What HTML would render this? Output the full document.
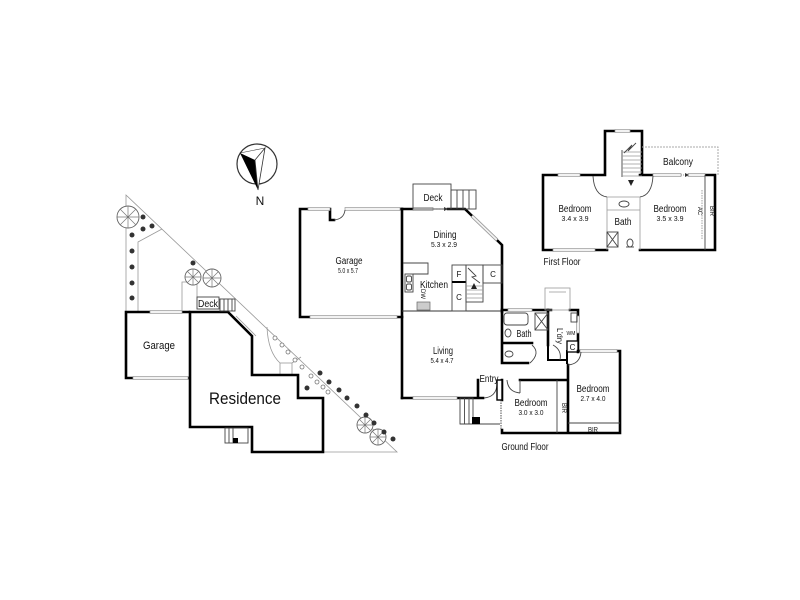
<!DOCTYPE html>
<html><head><meta charset="utf-8"><style>
html,body{margin:0;padding:0;background:#fff;}
svg{display:block;}
text{font-family:"Liberation Sans",sans-serif;fill:#111;}
.w{stroke:#000;stroke-width:2.6;fill:none;stroke-linecap:square;stroke-linejoin:miter;}
.t{stroke:#444;stroke-width:0.9;fill:none;}
.l{stroke:#999;stroke-width:0.8;fill:none;}
.win{fill:#f2f2f2;stroke:#999;stroke-width:0.7;}
.dot{fill:#333;}
.hc{fill:#fff;stroke:#777;stroke-width:0.8;}
.tree{fill:#fff;stroke:#666;stroke-width:0.9;}
</style></head><body>
<svg width="800" height="600" viewBox="0 0 800 600" xmlns="http://www.w3.org/2000/svg">
<rect width="800" height="600" fill="#fff"/>

<!-- Compass -->
<circle cx="257" cy="164" r="20" fill="none" stroke="#333" stroke-width="1.2"/>
<polygon points="240,153 255,160 258,190" fill="#000"/>
<polygon points="255,160 265,148 258,190" fill="#fff" stroke="#333" stroke-width="0.8"/>
<line x1="240" y1="153" x2="265" y2="148" stroke="#333" stroke-width="0.6"/>
<text x="260" y="205" font-size="12" text-anchor="middle">N</text>

<!-- ===== SITE PLAN ===== -->
<polyline class="l" points="126,312 126,195 397,452 323,452"/>
<polyline class="l" points="138,312 138,242 162,229"/>
<polyline class="l" points="182,312 182,282 197,282 197,297"/>
<line class="l" x1="236" y1="316" x2="256" y2="336"/>
<path class="l" d="M267,327 Q268,352 280,363"/>
<rect class="l" x="280" y="363" width="12" height="12"/>
<line class="l" x1="292" y1="363" x2="301" y2="357"/>

<!-- small garage -->
<polyline class="w" points="189,312 126,312 126,378 133,378"/>
<line class="w" x1="188" y1="378" x2="189" y2="378"/>
<rect class="win" x="150" y="310.5" width="32" height="3"/>
<rect class="win" x="133" y="376.5" width="55" height="3"/>
<text x="159" y="349" font-size="11" text-anchor="middle" textLength="32" lengthAdjust="spacingAndGlyphs">Garage</text>

<!-- residence -->
<polygon class="w" points="190,312 228,312 252,336 252,375 298,375 298,398 323,398 323,452 252,452 252,427 190,427"/>
<text x="245" y="404" font-size="17" text-anchor="middle" textLength="72" lengthAdjust="spacingAndGlyphs">Residence</text>

<!-- site deck -->
<rect class="t" x="197" y="297" width="22" height="12" fill="#fff"/>
<text x="208" y="307" font-size="10" text-anchor="middle" textLength="20" lengthAdjust="spacingAndGlyphs">Deck</text>
<rect class="t" x="220" y="299" width="15" height="12"/>
<line class="t" x1="224" y1="299" x2="224" y2="311"/>
<line class="t" x1="228" y1="299" x2="228" y2="311"/>
<line class="t" x1="232" y1="299" x2="232" y2="311"/>
<!-- site bottom stair -->
<rect class="t" x="225" y="428" width="23" height="15"/>
<line class="t" x1="229" y1="428" x2="229" y2="443"/>
<line class="t" x1="233" y1="428" x2="233" y2="443"/>
<rect x="233" y="438" width="5" height="5" fill="#000"/>

<!-- trees -->
<g class="tree">
<circle cx="128" cy="217" r="11"/>
<circle cx="193" cy="277" r="8"/>
<circle cx="212" cy="278" r="9"/>
<circle cx="365" cy="425" r="8"/>
<circle cx="378" cy="437" r="8"/>
</g>
<g stroke="#777" stroke-width="0.7">
<path d="M117,217H139M128,206V228M120,209L136,225M136,209L120,225"/>
<path d="M185,277H201M193,269V285M187,271L199,283M199,271L187,283"/>
<path d="M203,278H221M212,269V287M206,272L218,284M218,272L206,284"/>
<path d="M357,425H373M365,417V433M359,419L371,431M371,419L359,431"/>
<path d="M370,437H386M378,429V445M372,431L384,443M384,431L372,443"/>
</g>
<!-- dark shrubs -->
<g class="dot">
<circle cx="143" cy="217" r="2.5"/><circle cx="152" cy="226" r="2.5"/><circle cx="143" cy="229" r="2.5"/>
<circle cx="132" cy="235" r="2.5"/><circle cx="132" cy="251" r="2.5"/><circle cx="132" cy="267" r="2.5"/>
<circle cx="132" cy="283" r="2.5"/><circle cx="132" cy="298" r="2.5"/><circle cx="193" cy="263" r="2.5"/>
<circle cx="307" cy="388" r="2.5"/><circle cx="320" cy="373" r="2.5"/><circle cx="329" cy="382" r="2.5"/>
<circle cx="339" cy="390" r="2.5"/><circle cx="347" cy="398" r="2.5"/><circle cx="357" cy="406" r="2.5"/>
<circle cx="366" cy="415" r="2.5"/><circle cx="374" cy="423" r="2.5"/><circle cx="384" cy="432" r="2.5"/>
<circle cx="393" cy="439" r="2.5"/>
</g>
<g class="hc">
<circle cx="275" cy="338" r="2"/><circle cx="282" cy="345" r="2"/><circle cx="288" cy="352" r="2"/>
<circle cx="295" cy="360" r="2"/><circle cx="302" cy="367" r="2"/><circle cx="311" cy="376" r="2"/>
<circle cx="317" cy="382" r="2"/><circle cx="323" cy="387" r="2"/><circle cx="328" cy="392" r="2"/>
</g>

<!-- ===== GROUND FLOOR ===== -->
<!-- garage -->
<path class="w" d="M308,209H300V317H310M397,317H402M330,209V220H334M400,209H402"/>
<rect class="win" x="308" y="207.5" width="22" height="3"/>
<rect class="win" x="345" y="207.5" width="55" height="3"/>
<rect class="win" x="310" y="315.5" width="87" height="3"/>
<path class="t" d="M334,220 Q344,219 345,210"/>
<text x="349" y="264" font-size="10" text-anchor="middle" textLength="27" lengthAdjust="spacingAndGlyphs">Garage</text>
<text x="348" y="273" font-size="7.5" text-anchor="middle" textLength="20" lengthAdjust="spacingAndGlyphs">5.0 x 5.7</text>

<!-- central wall -->
<line class="w" x1="402" y1="209" x2="402" y2="398"/>
<!-- dining -->
<path class="w" d="M402,209H413M448,209H465L502,245V312"/>
<rect class="win" x="413" y="207.5" width="20" height="3"/>
<line x1="433" y1="209" x2="445" y2="209" stroke="#777" stroke-width="0.8" stroke-dasharray="1.5,1.5"/>
<polygon points="448,209 444,207 444,211" fill="#333"/>
<line x1="472" y1="216" x2="497" y2="240" stroke="#999" stroke-width="3.4"/>
<line x1="472" y1="216" x2="497" y2="240" stroke="#f2f2f2" stroke-width="1.8"/>
<rect class="t" x="413" y="184" width="38" height="25" fill="#fff"/>
<text x="433" y="201" font-size="10" text-anchor="middle" textLength="19" lengthAdjust="spacingAndGlyphs">Deck</text>
<rect class="t" x="451" y="190" width="25" height="19"/>
<path class="t" d="M457,190V209M463,190V209M469,190V209"/>
<text x="445" y="238" font-size="10" text-anchor="middle" textLength="23" lengthAdjust="spacingAndGlyphs">Dining</text>
<text x="444" y="247" font-size="7.5" text-anchor="middle" textLength="26" lengthAdjust="spacingAndGlyphs">5.3 x 2.9</text>

<!-- kitchen -->
<polyline class="t" points="403,263 428,263 428,274 413,274"/>
<rect class="t" x="405" y="274" width="8" height="18"/>
<rect class="t" x="406.5" y="276" width="5" height="6" rx="1.5"/>
<rect class="t" x="406.5" y="284" width="5" height="6" rx="1.5"/>
<rect x="417" y="302" width="13" height="8" fill="#ccc" stroke="#666" stroke-width="0.7"/>
<text x="434" y="288" font-size="10" text-anchor="middle" textLength="28" lengthAdjust="spacingAndGlyphs">Kitchen</text>
<text transform="translate(421,294) rotate(90)" font-size="6" text-anchor="middle">DW</text>
<line x1="402" y1="311" x2="502" y2="311" stroke="#333" stroke-width="1"/>

<!-- stair block -->
<rect class="t" x="452" y="265" width="14" height="17"/>
<rect class="t" x="452" y="282" width="14" height="29"/>
<line x1="452" y1="282" x2="466" y2="282" stroke="#000" stroke-width="2"/>
<rect class="t" x="466" y="265" width="17" height="37"/>
<path class="l" d="M466,286H483M466,290H483M466,294H483M466,298H483"/>
<path class="t" d="M468,268L476,276L472,277L480,283"/>
<polygon points="474,283 471,289 477,289" fill="#222"/>
<rect class="t" x="483" y="265" width="19" height="18"/>
<text x="459" y="277" font-size="8" text-anchor="middle">F</text>
<text x="459" y="300" font-size="8" text-anchor="middle">C</text>
<text x="493" y="277" font-size="8" text-anchor="middle">C</text>

<!-- bath / laundry -->
<path class="w" d="M502,310V363H528M502,343H532M548,310V345M570,310H578V352"/>
<path class="w" d="M502,310H508M532,310H551"/>
<rect class="win" x="508" y="308.5" width="24" height="3"/>
<rect class="l" x="545" y="288" width="25" height="22"/>
<line class="l" x1="549" y1="292" x2="566" y2="292"/>
<rect class="win" x="576.5" y="316" width="3" height="17"/>
<rect class="t" x="504" y="313" width="24" height="12" rx="3"/>
<rect class="t" x="535" y="313" width="13" height="17"/>
<path class="t" d="M535,313L548,330M548,313L535,330"/>
<ellipse class="t" cx="508" cy="333" rx="3" ry="4"/>
<ellipse class="t" cx="509" cy="354" rx="4" ry="3"/>
<path class="t" d="M532,345 Q541,353 530,363"/>
<path class="w" d="M548,345V360H567M567,351V363" style="stroke-width:2"/>
<path class="t" d="M553,345 Q562,350 560,360"/>
<rect class="t" x="571" y="313" width="6" height="9"/>
<rect x="567" y="341" width="11" height="11" fill="#fff" stroke="#000" stroke-width="1.3"/>
<text x="572.5" y="350" font-size="8" text-anchor="middle">C</text>
<text transform="translate(557,336) rotate(90)" font-size="8" text-anchor="middle" textLength="16" lengthAdjust="spacingAndGlyphs">L'dry</text>
<text x="571" y="335" font-size="5" text-anchor="middle">WM</text>
<text x="524" y="337" font-size="10" text-anchor="middle" textLength="15" lengthAdjust="spacingAndGlyphs">Bath</text>

<!-- bedrooms -->
<path class="w" d="M578,351H580M617,351H620V433H502V430M520,380H568M568,365V433M502,380V400"/>
<rect class="win" x="580" y="349.5" width="37" height="3"/>
<line x1="501" y1="400" x2="501" y2="430" stroke="#888" stroke-width="1.5" stroke-dasharray="1.5,1"/>
<path class="t" d="M507,380 Q508,392 520,393M520,380V393"/>
<path class="t" d="M568,365 Q580,364 581,352"/>
<line class="t" x1="557" y1="380" x2="557" y2="433"/>
<line class="t" x1="568" y1="423" x2="620" y2="423"/>
<text x="531" y="406" font-size="10" text-anchor="middle" textLength="33" lengthAdjust="spacingAndGlyphs">Bedroom</text>
<text x="531" y="415" font-size="7.5" text-anchor="middle" textLength="25" lengthAdjust="spacingAndGlyphs">3.0 x 3.0</text>
<text x="593" y="392" font-size="10" text-anchor="middle" textLength="33" lengthAdjust="spacingAndGlyphs">Bedroom</text>
<text x="593" y="401" font-size="7.5" text-anchor="middle" textLength="25" lengthAdjust="spacingAndGlyphs">2.7 x 4.0</text>
<text x="593" y="432" font-size="7" text-anchor="middle" textLength="10" lengthAdjust="spacingAndGlyphs">BIR</text>
<text transform="translate(562,408) rotate(90)" font-size="7" text-anchor="middle" textLength="10" lengthAdjust="spacingAndGlyphs">BIR</text>

<!-- living / entry -->
<path class="w" d="M402,398H413M457,398H483M478,398V380"/>
<rect class="win" x="413" y="396.5" width="44" height="3"/>
<path class="t" d="M484,398 Q496,397 497,385"/>
<rect x="497" y="380" width="5" height="20" fill="#fff" stroke="#000" stroke-width="1.4"/>
<rect class="t" x="460" y="398" width="13" height="26"/>
<path class="t" d="M464.5,398V424M469,398V424M460,424H500"/>
<rect x="472" y="417" width="8" height="7" fill="#000"/>
<text x="443" y="354" font-size="10" text-anchor="middle" textLength="20" lengthAdjust="spacingAndGlyphs">Living</text>
<text x="442" y="363" font-size="7.5" text-anchor="middle" textLength="23" lengthAdjust="spacingAndGlyphs">5.4 x 4.7</text>
<text x="489" y="382" font-size="10" text-anchor="middle" textLength="19" lengthAdjust="spacingAndGlyphs">Entry</text>
<text x="525" y="450" font-size="10" text-anchor="middle" textLength="47" lengthAdjust="spacingAndGlyphs">Ground Floor</text>

<!-- ===== FIRST FLOOR ===== -->
<path class="w" d="M605,175V131H615M630,131H642V175H653M543,175H558M580,175H605M543,175V250H553M595,250H607M640,250H715V175H705M640,175H653"/>
<rect class="win" x="615" y="129.5" width="15" height="3"/>
<rect class="win" x="558" y="173.5" width="22" height="3"/>
<rect class="win" x="553" y="248.5" width="42" height="3"/>
<rect class="win" x="653" y="173.5" width="28" height="3"/>
<rect class="win" x="688" y="173.5" width="17" height="3"/>
<line x1="681" y1="175" x2="686" y2="175" stroke="#777" stroke-width="0.8" stroke-dasharray="1,1"/>
<polygon points="689,175 685,173 685,177" fill="#333"/>
<polyline points="642,147 718,147 718,175" fill="none" stroke="#aaa" stroke-width="1" stroke-dasharray="2,1"/>
<!-- stairs -->
<path class="t" d="M622,150V177"/>
<path class="l" d="M622,152H642M622,156H642M622,160H642M622,164H642M622,168H642M622,172H642M622,176H642"/>
<path class="t" d="M624,153L632,145L628,151L636,143"/>
<polygon points="631,186 628,180 634,180" fill="#222"/>
<!-- landing arcs -->
<path class="t" d="M593,176 Q594,195 607,197M653,176 Q652,195 640,197"/>
<!-- bath -->
<path class="l" d="M607,197V250M640,197V250M607,197H640M607,210H640"/>
<ellipse class="t" cx="624" cy="204" rx="5" ry="3"/>
<rect class="t" x="607" y="232" width="11" height="15"/>
<path class="t" d="M607,232L618,247M618,232L607,247"/>
<ellipse class="t" cx="630" cy="243" rx="3" ry="4"/>
<path class="t" d="M626,247H634"/>
<line class="t" x1="705" y1="175" x2="705" y2="250"/>
<line x1="702" y1="190" x2="702" y2="240" stroke="#888" stroke-width="0.8" stroke-dasharray="1.5,1"/>
<text x="678" y="165" font-size="10" text-anchor="middle" textLength="30" lengthAdjust="spacingAndGlyphs">Balcony</text>
<text x="575" y="212" font-size="10" text-anchor="middle" textLength="33" lengthAdjust="spacingAndGlyphs">Bedroom</text>
<text x="575" y="221" font-size="7.5" text-anchor="middle" textLength="27" lengthAdjust="spacingAndGlyphs">3.4 x 3.9</text>
<text x="670" y="212" font-size="10" text-anchor="middle" textLength="33" lengthAdjust="spacingAndGlyphs">Bedroom</text>
<text x="670" y="221" font-size="7.5" text-anchor="middle" textLength="27" lengthAdjust="spacingAndGlyphs">3.5 x 3.9</text>
<text x="623" y="225" font-size="10" text-anchor="middle" textLength="17" lengthAdjust="spacingAndGlyphs">Bath</text>
<text transform="translate(710,211) rotate(90)" font-size="7" text-anchor="middle" textLength="10" lengthAdjust="spacingAndGlyphs">BIR</text>
<text transform="translate(698,211) rotate(90)" font-size="6" text-anchor="middle">AC</text>
<text x="562" y="265" font-size="10" text-anchor="middle" textLength="37" lengthAdjust="spacingAndGlyphs">First Floor</text>
</svg>
</body></html>
